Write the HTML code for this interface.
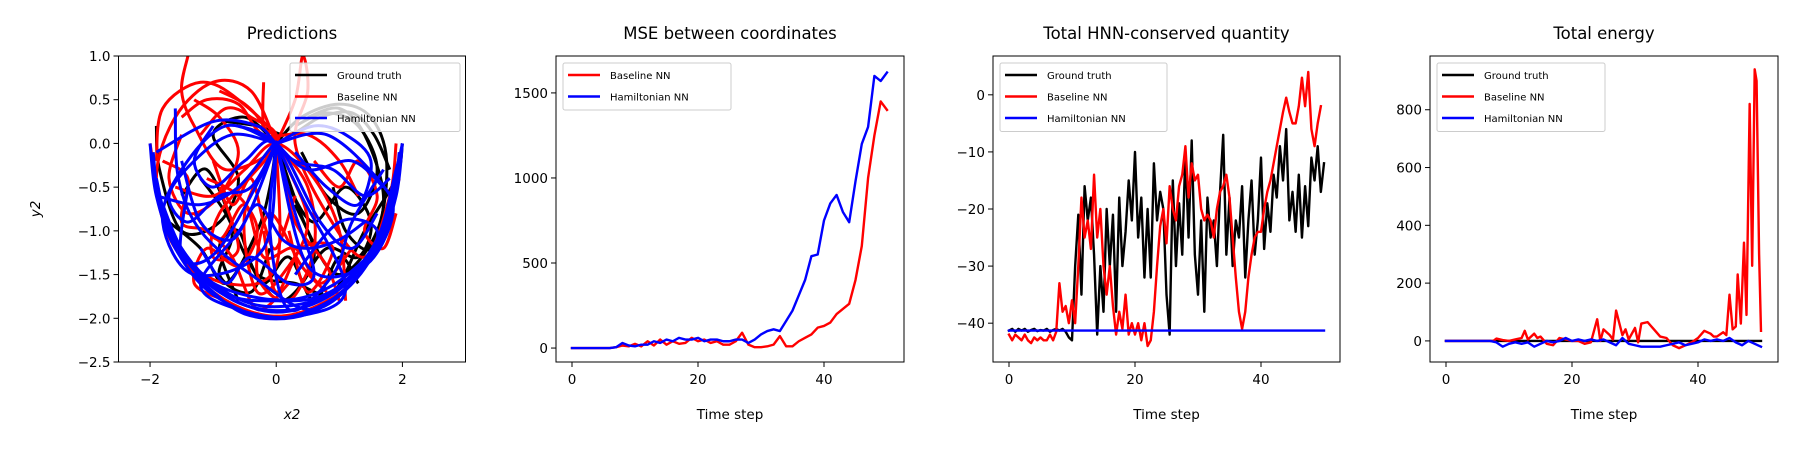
<!DOCTYPE html>
<html><head><meta charset="utf-8"><style>
html,body{margin:0;padding:0;background:#fff;}
svg{display:block;font-family:"DejaVu Sans","Liberation Sans",sans-serif;}
</style></head><body>
<svg id="fig" width="1800" height="450" viewBox="0 0 1800 450" xmlns="http://www.w3.org/2000/svg"></svg>
<script>
// ---------- Panel 1 data (x2,y2 trajectories) ----------
const gtTraj = [
 [[-1.9,0.2],[-1.85,-0.3],[-1.5,-1.0],[-0.9,-0.9],[-0.6,-0.4],[-1.0,0.1],[-0.5,0.3],[0,0]],
 [[0,0],[0.4,0.3],[1.0,0.45],[1.5,0.3],[1.75,-0.2],[1.6,-1.0],[1.0,-1.5],[0.5,-1.0],[0,0]],
 [[0.3,0.2],[0.8,0.35],[1.3,0.2],[1.6,-0.3],[1.3,-0.8],[0.8,-0.6],[0.4,-0.1]],
 [[-0.6,-1.8],[-0.9,-1.2],[-0.6,-1.0],[-0.3,-1.5],[0.3,-1.6],[0.9,-1.7],[1.4,-1.0],[1.9,-0.4],[2,0]],
 [[-1.7,-0.9],[-1.2,-1.2],[-0.8,-1.6],[-0.3,-1.0],[-0.1,-0.5],[0,0]],
 [[-0.8,0.25],[-0.3,0.2],[0.2,0.1],[0.7,0.3],[1.2,0.35],[1.55,0.1],[1.8,-0.3]],
 [[-1.2,-0.4],[-0.8,-0.8],[-0.4,-1.4],[0.1,-1.8],[0.6,-1.3],[0.3,-0.7]],
 [[0.5,0.3],[1.0,0.4],[1.4,0.1],[1.7,-0.6],[1.5,-1.2],[1.1,-1.0],[0.9,-0.5]],
 [[-0.5,-1.2],[-0.2,-1.6],[0.2,-1.3],[0.6,-1.8],[1.0,-1.3],[1.3,-1.6]],
 [[-1.5,-0.6],[-1.1,-0.3],[-0.7,-1.0],[-0.9,-1.5],[-0.4,-1.7],[-0.1,-1.2]],
 [[0.2,-0.5],[0.6,-0.9],[1.1,-0.5],[1.5,-0.9],[1.3,-1.3],[0.8,-1.2],[0.4,-1.6]]
];
const bnnTraj = [
 [[-1.4,1.0],[-1.5,0.6],[-1.3,0.2],[-0.8,-0.3],[0,0],[-0.6,0.5],[-1.2,0.7],[-1.8,0.4],[-1.9,-0.2]],
 [[0,0],[-0.4,0.6],[-1.0,0.7],[-1.6,0.3],[-1.9,-0.4],[-1.6,-1.2],[-0.8,-1.6],[0,-1.4],[0,0]],
 [[0,0],[0.3,0.5],[0.42,1.0],[0.5,0.6],[0.3,0],[0.8,-0.8],[1.4,-1.3],[1.8,-0.6],[1.9,0.0]],
 [[-0.2,0.7],[-0.2,0.2],[0,0],[-0.5,-0.8],[-0.3,-1.7],[0.2,-1.4],[0.5,-0.9],[0.2,-0.3],[0,0]],
 [[-2,0],[-1.8,-0.8],[-1.3,-1.5],[-0.5,-1.9],[0.3,-1.95],[1.2,-1.6],[1.7,-1.0],[1.95,-0.4]],
 [[-1.6,-0.5],[-1.0,-0.6],[-0.5,-0.3],[0,0],[0.6,-0.4],[1.0,-1.0],[1.1,-1.8]],
 [[-1.2,0.1],[-0.8,0.4],[-0.4,0.3],[0,0],[-0.9,-0.8],[-1.0,-1.3],[-0.6,-1.2],[-0.9,-0.5]],
 [[0.2,-1.0],[0.5,-1.7],[0.9,-1.2],[0.4,-1.2],[0.0,-1.7],[-0.2,-1.0]],
 [[-1.5,0.3],[-1.1,0.5],[-0.6,0.45],[-0.2,0.1],[0.5,0.1],[1.0,-0.2],[1.3,-0.6]],
 [[-1.3,-0.8],[-0.9,-1.1],[-0.5,-0.7],[-0.2,-1.3],[0.3,-1.2],[0.7,-1.6],[1.2,-1.2]],
 [[-1.3,0.5],[-0.9,0.3],[-0.6,-0.1],[-0.9,-0.6],[-1.4,-0.8],[-1.7,-0.4],[-1.5,0.1]],
 [[-1.1,-0.4],[-0.6,-0.6],[-0.3,-1.0],[-0.6,-1.4],[-1.1,-1.2],[-1.3,-1.6],[-0.8,-1.8]],
 [[0,0],[0.5,-0.5],[0.6,-1.2],[0.2,-1.8],[-0.3,-1.5],[-0.1,-0.8],[0.4,-1.4],[0.8,-1.7]],
 [[0.6,-0.2],[1.0,-0.5],[1.3,-0.2],[1.6,-0.6],[1.4,-1.0],[1.7,-1.2],[1.9,-0.8]],
 [[-1.8,-0.2],[-1.4,-0.4],[-1.5,-0.9],[-1.1,-1.0],[-0.7,-1.3],[-0.3,-1.9],[0.2,-1.6]],
 [[-0.9,0.6],[-0.5,0.45],[-0.2,0.2],[0.1,-0.3],[0.3,-0.9],[0.8,-1.4],[1.0,-1.8]],
 [[-1.0,-0.2],[-0.7,-0.7],[-0.4,-0.4],[-0.2,-0.9],[0.0,-1.2],[0.3,-0.6]]
];
const hnnTraj = [
 [[-2,0],[-1.9,-0.6],[-1.6,-1.2],[-1.0,-1.73],[0,-2],[1.0,-1.73],[1.6,-1.2],[1.9,-0.6],[2,0]],
 [[-1.95,-0.1],[-1.85,-0.65],[-1.5,-1.25],[-0.9,-1.7],[0,-1.93],[0.9,-1.72],[1.5,-1.25],[1.85,-0.65],[1.95,-0.1]],
 [[-1.9,-0.4],[-1.7,-0.95],[-1.2,-1.5],[-0.5,-1.85],[0.4,-1.88],[1.2,-1.5],[1.7,-0.95],[1.9,-0.4]],
 [[-1.8,-0.7],[-1.5,-1.2],[-1.0,-1.6],[-0.3,-1.85],[0.5,-1.82],[1.1,-1.6],[1.6,-1.1],[1.85,-0.5]],
 [[-1.75,-0.95],[-1.3,-1.45],[-0.7,-1.75],[0,-1.8],[0.7,-1.75],[1.3,-1.45],[1.75,-0.95]],
 [[-1.6,-1.1],[-1.1,-1.55],[-0.4,-1.75],[0.3,-1.78],[0.9,-1.62],[1.45,-1.3]],
 [[0,0],[-0.5,-0.9],[-1.2,-1.6],[-0.6,-1.9],[0.3,-1.98],[1.1,-1.67],[0.4,-0.6],[0,0]],
 [[0,0],[-0.8,0.2],[-1.5,-0.3],[-1.8,-0.9],[-1.3,-1.5],[-0.2,-1.2],[0,0]],
 [[0,0],[0.8,0.1],[1.6,-0.4],[1.85,-0.8],[1.4,-1.4],[0.5,-1.4],[0,0]],
 [[-1.6,0.4],[-1.55,-0.4],[-1.2,-1.0],[-0.4,-1.5],[0.6,-1.9],[1.5,-1.3],[1.9,-0.3],[2,0]],
 [[-1.9,-0.1],[-1.0,0.25],[-0.3,0.2],[0,0],[0.5,-0.3],[1.2,-0.2],[1.7,-0.5]],
 [[0,0],[-0.1,-1],[0.2,-1.9],[0.9,-1.5],[1.2,-0.9],[1.7,-0.3]],
 [[-1.9,-0.6],[-1.2,-0.7],[-0.6,-0.5],[0,0],[-0.9,-1.2],[-1.5,-1.3],[-1.4,-0.5]],
 [[-1.3,-1.5],[-0.5,-1.95],[0.5,-1.95],[1.3,-1.5],[1.6,-1.0],[1.0,-0.9],[0.3,-1.5]],
 [[-0.6,0.2],[-0.2,0.1],[0.3,-0.2],[0.9,-0.3],[1.4,-0.6],[1.8,-0.4]],
 [[0,0],[-0.4,-0.5],[-0.9,-0.6],[-1.4,-0.9],[-1.7,-0.6],[-1.3,-0.2],[-0.7,0.1],[0,0]],
 [[0,0],[0.3,-0.8],[0.6,-1.5],[0.2,-1.6],[-0.4,-1.3],[-0.8,-1.6],[-1.2,-1.2]],
 [[0,0],[0.6,0.2],[1.1,0.1],[1.5,-0.2],[1.3,-0.7],[0.8,-0.5],[0.3,-0.1]],
 [[-1.5,-0.2],[-1.2,-0.9],[-0.7,-1.1],[-0.3,-0.7],[0.1,-1.1],[0.5,-1.2],[1.0,-1.1],[1.4,-0.9]],
 [[-1.0,0.2],[-1.3,-0.2],[-1.0,-0.5],[-0.5,-0.2],[0,0],[0.7,-0.9],[1.2,-1.2],[1.6,-0.8]]
];
// ---------- Panel 2 data (MSE, t = 0..50 step 1) ----------
const mseBaseline = [0,0,0,0,0,0,0,5,15,10,25,10,40,15,50,20,40,25,30,60,40,50,30,40,20,20,40,90,20,5,5,10,20,70,10,10,40,60,80,120,130,150,200,230,260,400,600,1000,1250,1450,1400];
const mseHamiltonian = [0,0,0,0,0,0,0,5,30,15,10,20,20,40,30,50,40,60,50,50,60,40,50,50,40,40,50,50,30,50,80,100,110,100,160,220,310,400,540,550,750,850,900,800,740,980,1200,1300,1600,1570,1620];
// ---------- Panel 3 data (HNN quantity, t = 0..50 step 0.5) ----------
const hnnqGround = [-41.3,-41,-41.5,-41,-41.3,-41,-41.5,-41.2,-41,-41.4,-41.2,-41.3,-41,-41.5,-41.2,-41,-41.3,-41,-41.5,-42.5,
 -43,-30,-21,-35,-16,-22,-18,-28,-42,-30,-38,-20,-30,-21,-38,-18,-30,-24,-15,-22,-10,-25,-18,-32,-20,-32,-12,-22,-17,-20,
 -35,-42,-15,-30,-19,-28,-10,-25,-8,-28,-35,-22,-38,-18,-25,-22,-30,-17,-7,-28,-18,-30,-22,-25,-16,-32,-22,-15,-28,-22,
 -11,-27,-19,-24,-14,-18,-9,-15,-6,-22,-17,-24,-14,-25,-16,-23,-11,-15,-9,-17,-12];
const hnnqBaseline = [-42,-43,-42,-42.5,-43,-42,-43,-43.5,-42.5,-43,-42.5,-43,-43,-42,-43,-41.5,
 -33,-38,-37,-40,-36,-40,-30,-18,-25,-22,-27,-14,-25,-20,-30,-35,-30,-37,-42,-38,-41,-35,-42,-40,
 -42,-40,-43,-40,-44,-43,-38,-30,-23,-20,-26,-16,-20,-22,-16,-14,-9,-18,-12,-15,-14,-20,-22,-21,-22,-25,
 -20,-17,-16,-14,-18,-25,-32,-38,-41,-38,-32,-28,-25,-24,-24,-20,-17,-15,-12,-9,-6,-3,-0.5,-3,-5,-5,
 -2,3,-2,4,-6,-9,-5,-2];
const hnnqHamiltonianT = [0,50];
const hnnqHamiltonian = [-41.3,-41.3];
// ---------- Panel 4 data (energy) ----------
const enGroundT = [0,50];
const enGround = [0,0];
const enBaselineT = [0,7.5,8,9,10,11,12,12.5,13,14,14.5,15,16,17,18,19,20,21,22,23,24,24.5,25,26,26.5,27,28,28.5,29,30,30.5,31,32,33,34,35,36,37,38,39,40,41,42,42.5,43,44,44.5,45,45.5,46,46.3,46.8,47.3,47.7,48.2,48.6,49,49.3,49.7,50];
const enBaseline = [0,0,8,3,0,5,10,35,5,25,10,15,-10,-15,10,5,0,0,-10,-5,75,0,40,20,5,105,20,40,5,45,-5,60,65,40,15,10,-15,-25,-15,-5,10,35,25,15,15,30,20,160,40,50,230,60,340,90,820,260,940,900,300,35];
const enHamiltonian = [0,0,0,0,0,0,0,0,-5,-20,-10,-5,-10,-5,-20,-10,0,-5,0,10,0,5,0,5,0,5,-5,-15,10,-10,-15,-20,-20,-20,-20,-15,-10,-5,-15,-10,-5,5,0,5,0,10,-5,-15,0,-10,-20];

const xTicks1 = [-2,0,2], yTicks1 = [1.0,0.5,0.0,-0.5,-1.0,-1.5,-2.0,-2.5];
const tTicks = [0,20,40];
const yTicks2 = [0,500,1000,1500], yTicks3 = [0,-10,-20,-30,-40], yTicks4 = [0,200,400,600,800];

const NS = "http://www.w3.org/2000/svg";
const svg = document.getElementById('fig');
function el(tag, attrs, parent){
  const e = document.createElementNS(NS, tag);
  for (const k in attrs) e.setAttribute(k, attrs[k]);
  (parent||svg).appendChild(e);
  return e;
}
const TOP = 56, BOT = 362;
function makeAxes(id, left, right, xmin, xmax, ymin, ymax){
  const sx = v => left + (v - xmin) / (xmax - xmin) * (right - left);
  const sy = v => BOT - (v - ymin) / (ymax - ymin) * (BOT - TOP);
  const g = el('g', {});
  
  
  const cp = el('clipPath', {id: id + '-clip'}, g);
  el('rect', {x:left, y:TOP, width:right-left, height:BOT-TOP}, cp);
  const plot = el('g', {'clip-path': 'url(#' + id + '-clip)'}, g);
  return {g, plot, sx, sy, left, right};
}
function fmt(v, dec){ const s = v.toFixed(dec); return s.replace('-', '\u2212'); }
function ticks(ax, xt, yt, ydec, xdec){
  xt.forEach(v => {
    const x = ax.sx(v);
    const t = el('line', {x1:x, x2:x, y1:BOT, y2:BOT+5, stroke:'#000', 'stroke-width':1}, ax.g);
    
    
    const l = el('text', {x:x, y:BOT+22, 'font-size':13.5, 'text-anchor':'middle'}, ax.g);
    
    
    l.textContent = fmt(v, xdec||0);
  });
  yt.forEach(v => {
    const y = ax.sy(v);
    const t = el('line', {x1:ax.left-5, x2:ax.left, y1:y, y2:y, stroke:'#000', 'stroke-width':1}, ax.g);
    
    
    const l = el('text', {x:ax.left-8, y:y+5, 'font-size':13.5, 'text-anchor':'end'}, ax.g);
    
    
    l.textContent = fmt(v, ydec);
  });
  const f = el('rect', {x:ax.left, y:TOP, width:ax.right-ax.left, height:BOT-TOP, fill:'none', stroke:'#000', 'stroke-width':1}, ax.g);
  
  
}
function title(ax, txt){
  const t = el('text', {x:(ax.left+ax.right)/2, y:39, 'font-size':16.5, 'text-anchor':'middle'}, ax.g);
  
  
  t.textContent = txt;
}
function xlabel(ax, txt, italic){
  const t = el('text', {x:(ax.left+ax.right)/2, y:419, 'font-size':13.5, 'text-anchor':'middle'}, ax.g);
  if (italic) t.setAttribute('font-style', 'italic');
  
  
  t.textContent = txt;
}
function smoothPath(pts){
  let d = 'M' + pts[0][0] + ',' + pts[0][1];
  for (let i = 0; i < pts.length - 1; i++){
    const p0 = pts[Math.max(0,i-1)], p1 = pts[i], p2 = pts[i+1], p3 = pts[Math.min(pts.length-1,i+2)];
    const c1 = [p1[0] + (p2[0]-p0[0])/6, p1[1] + (p2[1]-p0[1])/6];
    const c2 = [p2[0] - (p3[0]-p1[0])/6, p2[1] - (p3[1]-p1[1])/6];
    d += ' C' + c1[0] + ',' + c1[1] + ' ' + c2[0] + ',' + c2[1] + ' ' + p2[0] + ',' + p2[1];
  }
  return d;
}
function series(ax, ts, vs, color, name, w){
  const pts = vs.map((v,i) => [ax.sx(ts ? ts[i] : i), ax.sy(v)]);
  const p = el('polyline', {points: pts.map(p => p.join(',')).join(' '), fill:'none', stroke:color, 'stroke-width':w||2.4, 'stroke-linejoin':'round', 'stroke-linecap':'square'}, ax.plot);
  
  
}
function legend(ax, x, w, entries){
  const h = entries.length * 21.5 + 4;
  const g = el('g', {}, ax.g);
  
  
  el('rect', {x:x, y:63, width:w, height:h, rx:2, fill:'#fff', 'fill-opacity':0.8, stroke:'#ccc', 'stroke-width':1}, g);
  entries.forEach((e,i) => {
    const y = 75 + i * 21.5;
    const ln = el('line', {x1:x+5, x2:x+37, y1:y, y2:y, stroke:e[1], 'stroke-width':2.5}, g);
    
    
    const t = el('text', {x:x+47, y:y+4, 'font-size':10}, g);
    
    
    t.textContent = e[0];
  });
}
const idx = n => Array.from({length:n}, (_,i) => i*0.5);

// Panel 1
const a1 = makeAxes('predictions-axes', 118.5, 465.5, -2.5, 3, -2.5, 1.0);
[[gtTraj,'#000','ground-truth-trajectory'],[bnnTraj,'#f00','baseline-trajectory'],[hnnTraj,'#00f','hamiltonian-trajectory']].forEach(([set,c,n]) => {
  set.forEach(tr => {
    const p = el('path', {d: smoothPath(tr.map(q => [a1.sx(q[0]), a1.sy(q[1])])), fill:'none', stroke:c, 'stroke-width':3, 'stroke-linejoin':'round'}, a1.plot);
    
    
  });
});
ticks(a1, xTicks1, yTicks1, 1, 0);
title(a1, 'Predictions');
xlabel(a1, 'x2', true);
const yl = el('text', {x:0, y:0, 'font-size':13.5, 'font-style':'italic', 'text-anchor':'middle', transform:'translate(40,209) rotate(-90)'}, a1.g);


yl.textContent = 'y2';
legend(a1, 290, 170, [['Ground truth','#000'],['Baseline NN','#f00'],['Hamiltonian NN','#00f']]);

// Panel 2
const a2 = makeAxes('mse-axes', 556, 904, -2.54, 52.7, -82, 1717);
series(a2, null, mseBaseline, '#f00', 'mse-baseline-line');
series(a2, null, mseHamiltonian, '#00f', 'mse-hamiltonian-line');
ticks(a2, tTicks, yTicks2, 0);
title(a2, 'MSE between coordinates');
xlabel(a2, 'Time step');
legend(a2, 563, 168, [['Baseline NN','#f00'],['Hamiltonian NN','#00f']]);

// Panel 3
const a3 = makeAxes('hnn-quantity-axes', 993, 1340, -2.54, 52.54, -46.8, 6.8);
series(a3, idx(hnnqGround.length), hnnqGround, '#000', 'hnnq-ground-truth-line');
series(a3, idx(hnnqBaseline.length), hnnqBaseline, '#f00', 'hnnq-baseline-line');
series(a3, hnnqHamiltonianT, hnnqHamiltonian, '#00f', 'hnnq-hamiltonian-line');
ticks(a3, tTicks, yTicks3, 0);
title(a3, 'Total HNN-conserved quantity');
xlabel(a3, 'Time step');
legend(a3, 1000, 167, [['Ground truth','#000'],['Baseline NN','#f00'],['Hamiltonian NN','#00f']]);

// Panel 4
const a4 = makeAxes('energy-axes', 1430, 1778, -2.54, 52.7, -73, 986);
series(a4, enGroundT, enGround, '#000', 'energy-ground-truth-line');
series(a4, enBaselineT, enBaseline, '#f00', 'energy-baseline-line');
series(a4, null, enHamiltonian, '#00f', 'energy-hamiltonian-line');
ticks(a4, tTicks, yTicks4, 0);
title(a4, 'Total energy');
xlabel(a4, 'Time step');
legend(a4, 1437, 168, [['Ground truth','#000'],['Baseline NN','#f00'],['Hamiltonian NN','#00f']]);
</script>
</body></html>
